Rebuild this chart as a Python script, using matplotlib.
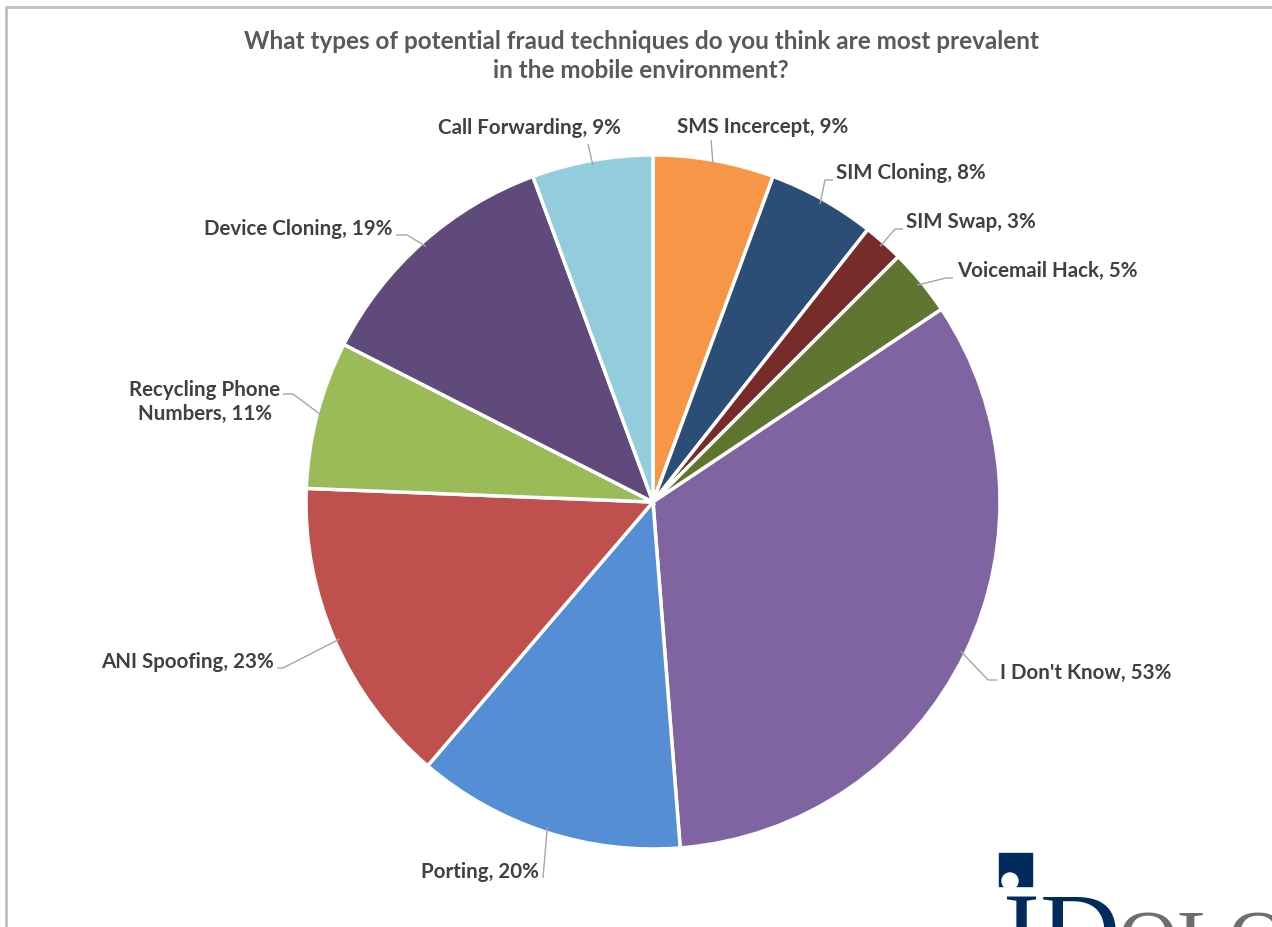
import matplotlib
matplotlib.use("Agg")
import matplotlib.pyplot as plt
import numpy as np
from matplotlib.patches import Rectangle, Circle

plt.rcParams['font.family'] = ['Lato', 'DejaVu Sans']

# survey answers (multi-select, so shares add up past 100%)
labels = ["SMS Incercept", "SIM Cloning", "SIM Swap", "Voicemail Hack", "I Don't Know",
          "Porting", "ANI Spoofing", "Recycling Phone\nNumbers", "Device Cloning", "Call Forwarding"]
values = [9, 8, 3, 5, 53, 20, 23, 11, 19, 9]
colors = ["#F79646", "#2C4D75", "#772C2A", "#5F7530", "#8064A2",
          "#558ED5", "#C0504D", "#9BBB59", "#604A7B", "#93CDDD"]

title = "What types of potential fraud techniques do you think are most prevalent\nin the mobile environment?"

W, H = 1272, 928
fig = plt.figure(figsize=(W / 100, H / 100), dpi=100)
ax = fig.add_axes([0, 0, 1, 1])


def Y(py):
    return H - py


cx, cy, R = 653, Y(503), 347
wedges, _ = ax.pie(values, colors=colors, startangle=90, counterclock=False,
                   center=(cx, cy), radius=R,
                   wedgeprops=dict(edgecolor="white", linewidth=2.5))

# label layout: text anchor, alignment, and the leader line bends (pixel coords)
layout = [
    dict(xy=(763, 127), ha="center", path=[(711, 141)]),
    dict(xy=(836, 173), ha="left", path=[(825, 181), (833, 181)]),
    dict(xy=(906, 222), ha="left", path=[(895, 230), (903, 230)]),
    dict(xy=(957, 271), ha="left", path=[(946, 279), (953, 279)]),
    dict(xy=(1000, 673), ha="left", path=[(988, 681), (997, 681)]),
    dict(xy=(539, 872), ha="right", path=[(543, 879)]),
    dict(xy=(274, 662), ha="right", path=[(283, 669), (277, 669)]),
    dict(xy=(205, 402), ha="center", path=[(293, 395), (283, 395)]),
    dict(xy=(392, 229), ha="right", path=[(407, 236), (396, 236)]),
    dict(xy=(529, 128), ha="center", path=[(588, 145)]),
]

for w, lab, val, lay in zip(wedges, labels, values, layout):
    mid = np.deg2rad((w.theta1 + w.theta2) / 2)
    sx = cx + (R - 5) * np.cos(mid)
    sy = cy + (R - 5) * np.sin(mid)
    xs = [sx] + [p[0] for p in lay["path"]]
    ys = [sy] + [Y(p[1]) for p in lay["path"]]
    ax.plot(xs, ys, color="#A6A6A6", lw=1.0, solid_capstyle="butt")
    ax.text(lay["xy"][0], Y(lay["xy"][1]), f"{lab}, {val}%", ha=lay["ha"], va="center",
            multialignment="center", fontsize=14.8, fontweight="bold", color="#404040",
            linespacing=1.3)

ax.text(641, Y(56), title, ha="center", va="center", fontsize=17.5, fontweight="bold",
        color="#595959", linespacing=1.35)

# chart frame
ax.plot([6, 6, W + 5], [Y(H + 5), Y(8), Y(8)], color="#BFBFBF", lw=2, solid_capstyle="butt")

# company logo peeking in at the lower right
ax.add_patch(Rectangle((999, Y(887)), 33, 33, color="#002B5C", zorder=5))
ax.add_patch(Circle((1010, Y(882)), 8, color="white", zorder=6))
ax.text(1003, Y(893), "ID", ha="left", va="top", fontsize=80, family="Liberation Serif",
        color="#002B5C", zorder=5)
ax.text(1118, Y(910), "OLO", ha="left", va="top", fontsize=60, family="Liberation Serif",
        color="#6D6E71", zorder=5)

ax.set_xlim(0, W)
ax.set_ylim(0, H)
ax.set_aspect("auto")
ax.axis("off")

fig.savefig("out.png", dpi=100)
